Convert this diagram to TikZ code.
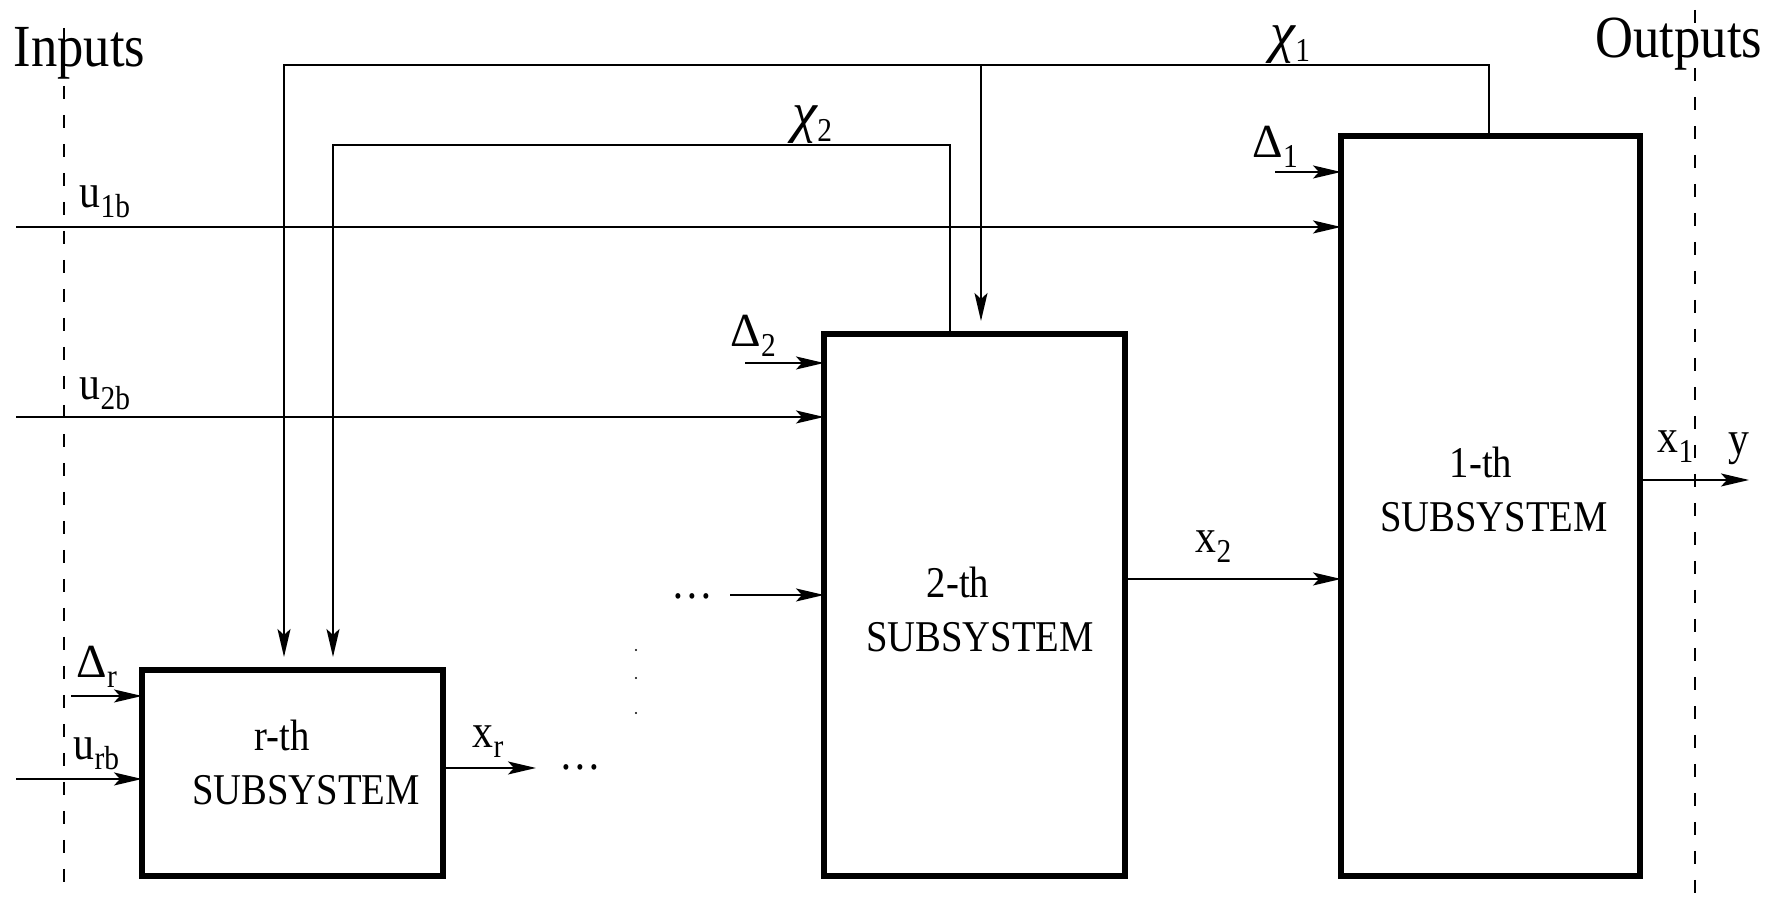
\documentclass[tikz,border=0pt]{standalone}
\usepackage{fontspec}
\setmainfont{Liberation Serif}[FakeStretch=0.88]
\newfontfamily\greekfont{Liberation Serif}
\usepackage{tikz}
\usetikzlibrary{arrows.meta,positioning,calc}
\newcommand{\sbs}[1]{\raisebox{-2.8pt}{\fontsize{9.5}{10}\selectfont #1}}
\newcommand{\chisym}{{\greekfont\itshape\fontsize{16}{18}\selectfont χ}}
\newcommand{\Dsym}{{\greekfont Δ}}

\begin{document}
\begin{tikzpicture}[
    subsys/.style={rectangle, draw, line width=1.6pt, minimum width=3.01cm, inner sep=0pt, outer sep=0pt},
    boxtext/.style={align=center, font=\fontsize{12.5}{15.6}\selectfont, inner sep=0pt},
    wire/.style={line width=0.55pt},
    arrow/.style={wire, -{Stealth[length=2.8mm,width=1.3mm,inset=0.6mm]}},
    border/.style={line width=0.45pt, dash pattern=on 1.3mm off 1.6mm},
    lbl/.style={font=\fontsize{13.5}{16}\selectfont, inner sep=0pt, anchor=base west},
    title/.style={font=\fontsize{17}{20}\selectfont, inner sep=0pt, anchor=base west},
]
\useasboundingbox (0,0) rectangle (17.77,9.01);

% subsystems
\node[subsys, minimum height=2.06cm] (br) at (2.925,1.28) {};
\node[subsys, minimum height=5.42cm] (b2) at (9.745,2.96) {};
\node[subsys, minimum width=2.99cm, minimum height=7.40cm] (b1) at (14.905,3.95) {};
\node[boxtext] (tr) at (3.06,1.385) {r-th\hspace*{0.48cm}\\SUBSYSTEM};
\node[boxtext] (t2) at (9.80,2.915) {2-th\hspace*{0.44cm}\\SUBSYSTEM};
\node[boxtext] (t1) at (14.94,4.115) {1-th\hspace*{0.26cm}\\SUBSYSTEM};

% inputs / outputs borders
\node[title] (inputs) at (0.13,8.34) {Inputs};
\node[title] (outputs) at (15.95,8.43) {Outputs};
\draw[border] (0.64,8.73) -- (0.64,0.06);
\draw[border] (16.95,8.91) -- (16.95,0);

% inputs
\coordinate (in1) at (0.16,6.74);
\coordinate (in2) at (0.16,4.84);
\coordinate (inr) at (0.16,1.22);
\draw[arrow] (in1) -- (in1 -| b1.west);
\draw[arrow] (in2) -- (in2 -| b2.west);
\draw[arrow] (inr) -- (inr -| br.west);
\node[lbl] (u1) at (0.79,6.93) {u\sbs{1b}};
\node[lbl] (u2) at (0.79,5.01) {u\sbs{2b}};
\node[lbl] (ur) at (0.73,1.41) {u\sbs{rb}};

% disturbances
\coordinate (d1) at (12.75,7.29);
\coordinate (d2) at (7.45,5.38);
\coordinate (dr) at (0.71,2.05);
\draw[arrow] (d1) -- (d1 -| b1.west);
\draw[arrow] (d2) -- (d2 -| b2.west);
\draw[arrow] (dr) -- (dr -| br.west);
\node[lbl] (l1) at (12.52,7.43) {\Dsym\sbs{1}};
\node[lbl] (l2) at (7.30,5.54) {\Dsym\sbs{2}};
\node[lbl] (lr) at (0.76,2.23) {\Dsym\sbs{r}};

% chain
\coordinate (xr) at (5.36,1.33);
\coordinate (dd) at (7.30,3.06);
\coordinate (yout) at (17.49,4.21);
\draw[arrow] (xr -| br.east) -- (xr);
\draw[arrow] (dd) -- (dd -| b2.west);
\draw[arrow] ([yshift=0.26cm]b2.east) -- ([yshift=0.26cm]b2.east -| b1.west);
\draw[arrow] (yout -| b1.east) -- (yout);
\node[lbl] (lxr) at (4.72,1.53) {x\sbs{r}};
\node[lbl] (lx2) at (11.95,3.48) {x\sbs{2}};
\node[lbl] (lx1) at (16.57,4.48) {x\sbs{1}};
\node[lbl] (ly) at (17.28,4.46) {y};
\node[lbl, anchor=base] (dotsr) at (5.80,1.31) {…};
\node[lbl, anchor=base] (dots2) at (6.92,3.02) {…};
\fill (6.36,2.51) circle (0.012) (6.36,2.23) circle (0.012) (6.36,1.88) circle (0.012);

% feedback
\coordinate (chi1) at (14.89,8.36);
\coordinate (chi2) at (9.50,7.56);
\coordinate (tap) at (9.81,8.36);
\draw[arrow, shorten >=1.3mm] (chi1 |- b1.north) -- (chi1) -| ([xshift=-0.085cm]br.north);
\draw[arrow, shorten >=1.3mm] (chi2 |- b2.north) -- (chi2) -| ([xshift=0.405cm]br.north);
\draw[arrow, shorten >=1.3mm] (tap) -- (tap |- b2.north);
\node[lbl] (lchi1) at (12.70,8.49) {\chisym\sbs{1}};
\node[lbl] (lchi2) at (7.92,7.69) {\chisym\sbs{2}};
\end{tikzpicture}
\end{document}
